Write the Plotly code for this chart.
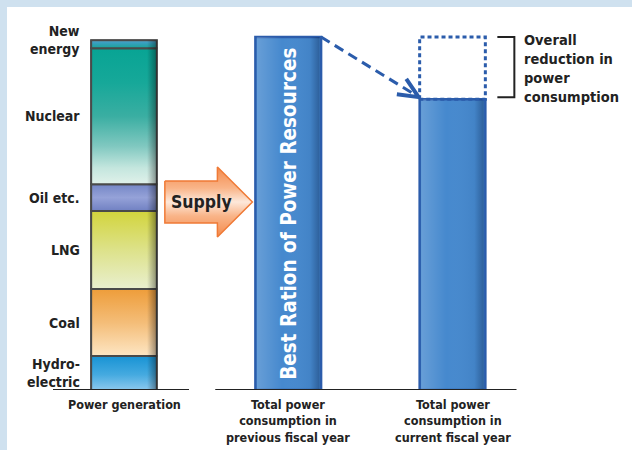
import math
import plotly.graph_objects as go

# ---------------- data ----------------
categories = ["Power generation",
              "Total power<br>consumption in<br>previous fiscal year",
              "Total power<br>consumption in<br>current fiscal year"]
sources = ["Hydro-<br>electric", "Coal", "LNG", "Oil etc.", "Nuclear", "New<br>energy"]
generation_share = [9.6, 19.0, 22.1, 7.6, 38.5, 2.3]   # bottom -> top
consumption_prev = [100.0]
consumption_curr = [82.4]
bar_text = "Best Ration of Power Resources"
reduction_label = "Overall<br>reduction in<br>power<br>consumption"
supply_label = "Supply"

# ---------------- styles ----------------
seg_scales = [  # [bottom, top] gradient for each source
    [[0, "#8cc8ee"], [0.45, "#45aae0"], [1, "#1893d4"]],
    [[0, "#fde6c4"], [0.5, "#f4bd78"], [1, "#ee9d3a"]],
    [[0, "#e9efcf"], [0.5, "#dde28a"], [1, "#d2d43c"]],
    [[0, "#7080c2"], [0.5, "#95a2d8"], [1, "#7486c6"]],
    [[0, "#e0f1ea"], [0.12, "#c4e6de"], [0.28, "#80c8c0"], [0.5, "#3aae a2".replace(" ", "")],
     [0.75, "#16a899"], [1, "#08a494"]],
    [[0, "#16a597"], [0.7, "#3b9fc2"], [1, "#5fb0d0"]],
]
seg_mid = ["#4aaee2", "#f4bd78", "#dde28a", "#8794d0", "#4cb8ac", "#3b9fc2"]
BLUE_FILL = "#4689ce"
BLUE_LINE = "#2b5cab"
DARK = "#222222"
FONT = "DejaVu Sans Condensed, Liberation Sans"

UX = 164.25   # px per x unit
UY = 3.53     # px per y unit
W = 0.40      # bar width (x units)
def dx(px): return px / UX
def dy(px): return px / UY

xpos = list(range(len(categories)))

fig = go.Figure()

# stacked generation bar
base = 0.0
bases = []
for i, v in enumerate(generation_share):
    bases.append(base)
    fig.add_trace(go.Bar(x=[xpos[0]], y=[v], base=[base], width=W,
                         marker=dict(color=seg_mid[i], line=dict(color="#444", width=1.5)),
                         hoverinfo="skip", showlegend=False))
    base += v

# consumption bars
fig.add_trace(go.Bar(x=[xpos[1]], y=consumption_prev, width=W,
                     marker=dict(color=BLUE_FILL, line=dict(color=BLUE_LINE, width=2.5)),
                     hoverinfo="skip", showlegend=False))
fig.add_trace(go.Bar(x=[xpos[2]], y=consumption_curr, width=W,
                     marker=dict(color=BLUE_FILL, line=dict(color=BLUE_LINE, width=2.5)),
                     hoverinfo="skip", showlegend=False))

# gradient overlays of generation segments
x0, x1 = xpos[0] - W / 2, xpos[0] + W / 2
for i, v in enumerate(generation_share):
    b = bases[i]
    fig.add_trace(go.Scatter(x=[x0, x1, x1, x0, x0], y=[b, b, b + v, b + v, b],
                             mode="lines", fill="toself",
                             fillgradient=dict(type="vertical", colorscale=seg_scales[i]),
                             line=dict(color="#4a4a4a", width=2),
                             hoverinfo="skip", showlegend=False))
total_gen = sum(generation_share)
# right-edge shading on generation bar
fig.add_trace(go.Scatter(x=[x0, x1, x1, x0, x0], y=[0, 0, total_gen, total_gen, 0],
                         mode="lines", fill="toself", line=dict(width=0),
                         fillgradient=dict(type="horizontal",
                                           colorscale=[[0, "rgba(0,0,0,0)"], [0.85, "rgba(0,0,0,0)"],
                                                       [1, "rgba(0,0,0,0.4)"]]),
                         hoverinfo="skip", showlegend=False))

# shading on consumption bars
for xi, val in ((xpos[1], consumption_prev[0]), (xpos[2], consumption_curr[0])):
    a0, a1 = xi - W / 2 + dx(1.5), xi + W / 2 - dx(1.5)
    fig.add_trace(go.Scatter(x=[a0, a1, a1, a0, a0], y=[0, 0, val, val, 0],
                             mode="lines", fill="toself", line=dict(width=0),
                             fillgradient=dict(type="horizontal",
                                               colorscale=[[0, "rgba(255,255,255,0.18)"],
                                                           [0.4, "rgba(255,255,255,0)"],
                                                           [0.85, "rgba(0,20,60,0.05)"],
                                                           [1, "rgba(0,20,60,0.35)"]]),
                             hoverinfo="skip", showlegend=False))

# dotted reduction box
c0, c1 = xpos[2] - W / 2, xpos[2] + W / 2
fig.add_trace(go.Scatter(x=[c0, c0, c1, c1, c0],
                         y=[consumption_curr[0], consumption_prev[0], consumption_prev[0],
                            consumption_curr[0], consumption_curr[0]],
                         mode="lines", line=dict(color=BLUE_LINE, width=3, dash="4px,3px"),
                         hoverinfo="skip", showlegend=False))

# dashed arrow from previous to current
sx, sy = xpos[1] + W / 2, consumption_prev[0]
tx, ty = xpos[2] - W / 2 - dx(1), consumption_curr[0] + dy(2)
fig.add_trace(go.Scatter(x=[sx, tx - dx(3)], y=[sy, ty + dy(2)], mode="lines",
                         line=dict(color=BLUE_LINE, width=3, dash="10px,6px"),
                         hoverinfo="skip", showlegend=False))
# chevron head computed in pixel space
vx, vy = (tx - sx) * UX, (ty - sy) * UY   # pixel vector (y up)
ang = math.atan2(-vy, -vx)
wing = 22
pts = []
for da in (math.radians(24), 0, math.radians(-24)):
    if da == 0:
        pts.append((tx, ty))
    else:
        a = ang + da
        pts.append((tx + dx(wing * math.cos(a)), ty + dy(wing * math.sin(a))))
fig.add_trace(go.Scatter(x=[p[0] for p in pts], y=[p[1] for p in pts], mode="lines",
                         line=dict(color=BLUE_LINE, width=4),
                         hoverinfo="skip", showlegend=False))

# bracket
bx0, bx1 = c1 + dx(12), c1 + dx(29)
fig.add_trace(go.Scatter(x=[bx0, bx1, bx1, bx0],
                         y=[consumption_prev[0], consumption_prev[0],
                            consumption_curr[0] + dy(2), consumption_curr[0] + dy(2)],
                         mode="lines", line=dict(color=DARK, width=2),
                         hoverinfo="skip", showlegend=False))
fig.add_annotation(x=c1 + dx(37), y=(consumption_prev[0] + consumption_curr[0]) / 2,
                   xref="x", yref="y", xanchor="left", yanchor="middle", align="left",
                   text="<b>" + reduction_label + "</b>", showarrow=False,
                   font=dict(family=FONT, size=14.5, color=DARK))

# supply arrow
ax_l = xpos[0] + W / 2 + dx(8)
ax_t = xpos[1] - W / 2 - dx(3)
ax_h = ax_t - dx(35)
ay_c = dy(188)
hb, hh = dy(21), dy(35)
fig.add_trace(go.Scatter(
    x=[ax_l, ax_h, ax_h, ax_t, ax_h, ax_h, ax_l, ax_l],
    y=[ay_c + hb, ay_c + hb, ay_c + hh, ay_c, ay_c - hh, ay_c - hb, ay_c - hb, ay_c + hb],
    mode="lines", fill="toself", line=dict(color="#f07a36", width=1.5),
    fillgradient=dict(type="vertical",
                      colorscale=[[0, "#f38a4c"], [0.3, "#f9b488"], [0.5, "#fde8da"],
                                  [0.7, "#f9b488"], [1, "#f38a4c"]]),
    hoverinfo="skip", showlegend=False))
fig.add_annotation(x=ax_l + dx(4), y=ay_c, xref="x", yref="y", xanchor="left",
                   text="<b>" + supply_label + "</b>", showarrow=False,
                   font=dict(family=FONT, size=17.5, color=DARK))

# rotated bar text
fig.add_annotation(x=xpos[1], y=consumption_prev[0] / 2, xref="x", yref="y",
                   text="<b>" + bar_text + "</b>", textangle=-90, showarrow=False,
                   font=dict(family=FONT, size=20.5, color="white"))

# source labels
for i, lab in enumerate(sources):
    ymid = bases[i] + generation_share[i] / 2
    fig.add_annotation(x=xpos[0] - W / 2, y=ymid, xref="x", yref="y", xanchor="right",
                       yanchor="middle", align="right", xshift=-9,
                       yshift=(4 if i == len(sources) - 1 else 0),
                       text="<b>" + lab + "</b>", showarrow=False,
                       font=dict(family=FONT, size=14, color=DARK))

# category labels
for i, lab in enumerate(categories):
    fig.add_annotation(x=xpos[i], y=0, xref="x", yref="y", yanchor="top",
                       yshift=-5, text="<b>" + lab + "</b>", showarrow=False,
                       font=dict(family=FONT, size=12.5, color=DARK))

# baselines
fig.add_shape(type="line", xref="x", yref="y", x0=xpos[0] - dx(71), x1=xpos[0] + dx(65),
              y0=0, y1=0, line=dict(color=DARK, width=2))
fig.add_shape(type="line", xref="x", yref="y", x0=xpos[1] - dx(73), x1=xpos[2] + dx(64),
              y0=0, y1=0, line=dict(color=DARK, width=2))

# white panel
fig.add_shape(type="rect", xref="paper", yref="paper", x0=7 / 632, x1=1.02,
              y0=-0.3, y1=1 - 7 / 390, fillcolor="white", line=dict(width=0), layer="below")

fig.update_layout(
    width=632, height=450, margin=dict(l=0, r=0, t=0, b=60),
    paper_bgcolor="#cfe1ef", plot_bgcolor="rgba(0,0,0,0)",
    barmode="overlay", showlegend=False,
    xaxis=dict(range=[-124 / UX, -124 / UX + 632 / UX], visible=False, fixedrange=True),
    yaxis=dict(range=[0, 390 / UY], visible=False, fixedrange=True),
)

fig.write_html("out.html")
